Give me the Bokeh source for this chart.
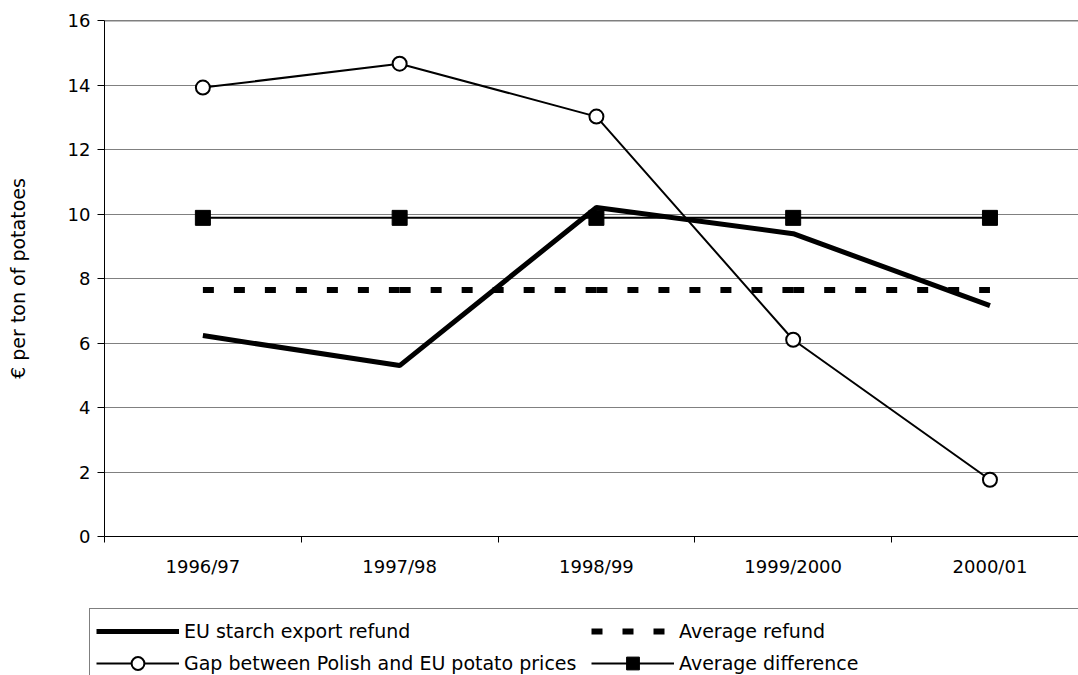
from bokeh.plotting import figure
from bokeh.models import Range1d, FixedTicker, Legend, LegendItem, Span
from bokeh.embed import file_html
from bokeh.resources import INLINE

categories = ["1996/97", "1997/98", "1998/99", "1999/2000", "2000/01"]
starch_refund = [6.23, 5.30, 10.20, 9.39, 7.16]
average_refund = [7.64, 7.64, 7.64, 7.64, 7.64]
price_gap = [13.92, 14.66, 13.02, 6.10, 1.76]
average_difference = [9.88, 9.88, 9.88, 9.88, 9.88]
y_ticks = [0, 2, 4, 6, 8, 10, 12, 14, 16]
series_labels = ["EU starch export refund", "Gap between Polish and EU potato prices",
                 "Average refund", "Average difference"]

x = [i + 0.5 for i in range(len(categories))]
boundaries = list(range(len(categories) + 1))

FONT = "DejaVu Sans"
W = 1078

p = figure(width=W, height=608, output_backend="svg", toolbar_location=None,
           x_range=Range1d(0, 4.95), y_range=Range1d(0, 16),
           min_border_left=104, min_border_right=0, min_border_top=20,
           min_border_bottom=72)
p.outline_line_color = None
p.background_fill_color = "white"
p.border_fill_color = "white"

# grid
p.xgrid.visible = False
p.ygrid.ticker = FixedTicker(ticks=y_ticks)
p.ygrid.grid_line_color = "#808080"
p.ygrid.grid_line_width = 1
p.add_layout(Span(location=16, dimension="width", line_color="black", line_width=1.5))

# y axis
p.yaxis.ticker = FixedTicker(ticks=y_ticks)
p.yaxis.axis_line_color = "black"
p.yaxis.major_tick_line_color = "black"
p.yaxis.major_tick_out = 7
p.yaxis.major_tick_in = 0
p.yaxis.minor_tick_line_color = None
p.yaxis.major_label_standoff = 7
p.yaxis.major_label_text_font = FONT
p.yaxis.major_label_text_font_size = "18px"
p.yaxis.major_label_text_color = "black"
p.yaxis.axis_label = "€ per ton of potatoes"
p.yaxis.axis_label_text_font = FONT
p.yaxis.axis_label_text_font_size = "19px"
p.yaxis.axis_label_text_font_style = "normal"
p.yaxis.axis_label_text_color = "black"
p.yaxis.axis_label_standoff = 36

# x axis
p.xaxis.ticker = FixedTicker(ticks=x, minor_ticks=boundaries)
p.xaxis.major_label_overrides = {xi: c for xi, c in zip(x, categories)}
p.xaxis.axis_line_color = "black"
p.xaxis.major_tick_line_color = None
p.xaxis.major_tick_out = 0
p.xaxis.major_tick_in = 0
p.xaxis.minor_tick_line_color = "black"
p.xaxis.minor_tick_out = 6
p.xaxis.minor_tick_in = 0
p.xaxis.major_label_standoff = 13
p.xaxis.major_label_text_font = FONT
p.xaxis.major_label_text_font_size = "18px"
p.xaxis.major_label_text_color = "black"

# series
p.line(x, average_difference, line_color="black", line_width=2)
for i in range(len(x) - 1):
    p.line(x[i:i + 2], average_refund[i:i + 2], line_color="black",
           line_width=6, line_dash="11 20")
p.line(x, starch_refund, line_color="black", line_width=5)
p.line(x, price_gap, line_color="black", line_width=2)
p.scatter(x, price_gap, marker="circle", size=14, fill_color="white",
          line_color="black", line_width=2)
p.scatter(x, average_difference, marker="square", size=15,
          fill_color="black", line_color="black")

# legend panel: a separate root so that the box is not clipped by the chart frame.
# Its ranges exclude the data, so only the legend samples show.
lg = figure(width=W, height=67, output_backend="svg", toolbar_location=None,
            x_range=Range1d(-20, -19), y_range=Range1d(-20, -19),
            min_border_left=89, min_border_right=0, min_border_top=0,
            min_border_bottom=0, x_axis_location=None, y_axis_location=None)
lg.xgrid.visible = False
lg.ygrid.visible = False
lg.outline_line_color = None
lg.background_fill_color = "white"
lg.border_fill_color = "white"

k_starch = lg.line(x, starch_refund, line_color="black", line_width=5)
k_gap_l = lg.line(x, price_gap, line_color="black", line_width=2)
k_gap_m = lg.scatter(x, price_gap, marker="circle", size=14, fill_color="white",
                     line_color="black", line_width=2)
k_ref = lg.line(x, average_refund, line_color="black", line_width=6, line_dash="11 20")
k_diff_l = lg.line(x, average_difference, line_color="black", line_width=2)
k_diff_m = lg.scatter(x, average_difference, marker="square", size=15,
                      fill_color="black", line_color="black")

legend = Legend(items=[
    LegendItem(label=series_labels[0], renderers=[k_starch]),
    LegendItem(label=series_labels[1], renderers=[k_gap_l, k_gap_m]),
    LegendItem(label=series_labels[2], renderers=[k_ref]),
    LegendItem(label=series_labels[3], renderers=[k_diff_l, k_diff_m]),
], location="top_left", orientation="vertical", ncols=2)
legend.glyph_width = 83
legend.glyph_height = 32
legend.label_height = 32
legend.label_standoff = 5
legend.label_width = 407
legend.padding = 6
legend.spacing = 0
legend.margin = 0
legend.border_line_color = "black"
legend.border_line_width = 1
legend.background_fill_color = "white"
legend.background_fill_alpha = 1
legend.label_text_font = FONT
legend.label_text_font_size = "19px"
legend.label_text_color = "black"
lg.add_layout(legend, "center")

open("out.html", "w").write(file_html([p, lg], INLINE))
